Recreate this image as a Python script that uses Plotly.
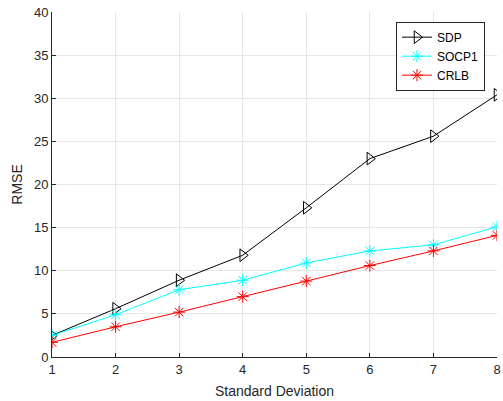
import plotly.graph_objects as go

x_vals = [1, 2, 3, 4, 5, 6, 7, 8]
sdp = [2.5, 5.6, 8.9, 11.8, 17.3, 23.0, 25.6, 30.4]
socp1 = [2.5, 4.9, 7.8, 8.9, 10.9, 12.3, 13.0, 15.1]
crlb = [1.7, 3.5, 5.2, 7.0, 8.8, 10.6, 12.3, 14.1]

fig = go.Figure()
fig.add_trace(go.Scatter(x=x_vals, y=sdp, name="SDP", mode="lines+markers",
                         line=dict(color="black", width=1),
                         marker=dict(symbol="triangle-right-open", size=11, color="black", line=dict(width=1))))
fig.add_trace(go.Scatter(x=x_vals, y=socp1, name="SOCP1", mode="lines+markers",
                         line=dict(color="#00FFFF", width=1),
                         marker=dict(symbol="asterisk-open", size=10, color="#00FFFF", line=dict(width=1, color="#00FFFF"))))
fig.add_trace(go.Scatter(x=x_vals, y=crlb, name="CRLB", mode="lines+markers",
                         line=dict(color="red", width=1),
                         marker=dict(symbol="asterisk-open", size=10, color="red", line=dict(width=1, color="red"))))

axis_common = dict(showgrid=True, gridcolor="#E6E6E6", gridwidth=1, zeroline=False,
                   showline=True, linecolor="#262626", linewidth=1,
                   ticks="inside", ticklen=4, tickcolor="#262626",
                   tickfont=dict(family="Liberation Sans, Arial", size=13, color="#262626"),
                   mirror=False, automargin=False)

fig.update_layout(
    width=503, height=401,
    margin=dict(l=52, r=6, t=12, b=44),
    plot_bgcolor="white", paper_bgcolor="white",
    font=dict(family="Liberation Sans, Arial", size=13, color="#262626"),
    xaxis=dict(range=[1, 8], dtick=1, tick0=1,
               title=dict(text="Standard Deviation", font=dict(size=14), standoff=10), **axis_common),
    yaxis=dict(range=[0, 40], dtick=5, tick0=0,
               title=dict(text="RMSE", font=dict(size=14), standoff=8), **axis_common),
    legend=dict(x=0.973, y=0.972, xanchor="right", yanchor="top",
                bgcolor="white", bordercolor="#262626", borderwidth=1,
                font=dict(size=12, color="#000000"),
                tracegroupgap=0),
    showlegend=True,
)

fig.write_html("out.html")
